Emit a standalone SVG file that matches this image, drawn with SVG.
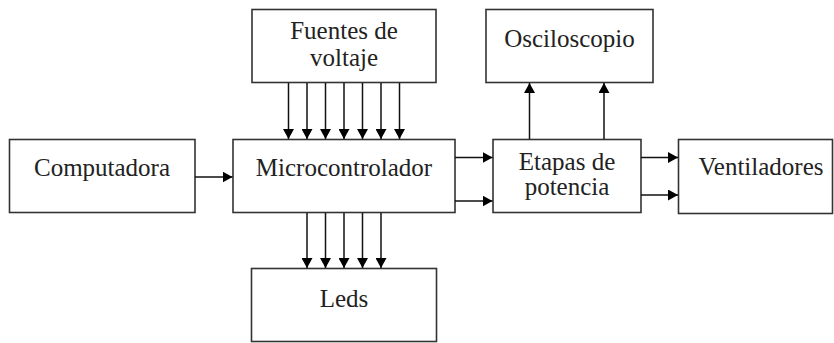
<svg xmlns="http://www.w3.org/2000/svg" width="834" height="343" viewBox="0 0 834 343">
<style>
.box{fill:#fff;stroke:#333;stroke-width:1.6}
.t{font-family:'Liberation Serif','Times New Roman',serif;font-size:25px;fill:#222;text-anchor:middle}
.c{stroke:#111;stroke-width:1.5;fill:none;marker-end:url(#ah)}
</style>
<defs>
<marker id="ah" markerUnits="userSpaceOnUse" markerWidth="10" markerHeight="11" refX="10" refY="5.5" orient="auto" viewBox="0 0 10 11">
<path d="M0,0 L10,5.5 L0,11 z" fill="#000"/>
</marker>
</defs>
<rect width="834" height="343" fill="#fff"/>
<g id="fuentes"><rect class="box" x="252" y="9.5" width="184" height="73"/><text class="t" font-family="Liberation Serif" x="344" y="39">Fuentes de</text><text class="t" font-family="Liberation Serif" x="344" y="66">voltaje</text></g>
<g id="computadora"><rect class="box" x="9.5" y="139.5" width="185.5" height="73"/><text class="t" font-family="Liberation Serif" x="102" y="176">Computadora</text></g>
<g id="micro"><rect class="box" x="233" y="139.5" width="222" height="73"/><text class="t" font-family="Liberation Serif" x="344" y="176">Microcontrolador</text></g>
<g id="osciloscopio"><rect class="box" x="486" y="9.5" width="167" height="73"/><text class="t" font-family="Liberation Serif" x="569.5" y="47">Osciloscopio</text></g>
<g id="etapas"><rect class="box" x="493" y="139.5" width="148" height="73"/><text class="t" font-family="Liberation Serif" x="567" y="170">Etapas de</text><text class="t" font-family="Liberation Serif" x="567" y="195">potencia</text></g>
<g id="ventiladores"><rect class="box" x="678.5" y="139.5" width="154" height="74"/><text class="t" font-family="Liberation Serif" x="761" y="175">Ventiladores</text></g>
<g id="leds"><rect class="box" x="251.5" y="268.5" width="185" height="73"/><text class="t" font-family="Liberation Serif" x="344" y="307">Leds</text></g>
<g id="connectors">
<path class="c" d="M288.5,83 V139"/>
<path class="c" d="M307,83 V139"/>
<path class="c" d="M325.5,83 V139"/>
<path class="c" d="M344,83 V139"/>
<path class="c" d="M362.5,83 V139"/>
<path class="c" d="M381,83 V139"/>
<path class="c" d="M399.5,83 V139"/>
<path class="c" d="M195,177 H232.5"/>
<path class="c" d="M307,213 V268"/>
<path class="c" d="M325.5,213 V268"/>
<path class="c" d="M344,213 V268"/>
<path class="c" d="M362.5,213 V268"/>
<path class="c" d="M381,213 V268"/>
<path class="c" d="M455,157.5 H492.5"/>
<path class="c" d="M455,201 H492.5"/>
<path class="c" d="M529.5,139 V83"/>
<path class="c" d="M604,139 V83"/>
<path class="c" d="M641,157.5 H678"/>
<path class="c" d="M641,195 H678"/>
</g>
</svg>
